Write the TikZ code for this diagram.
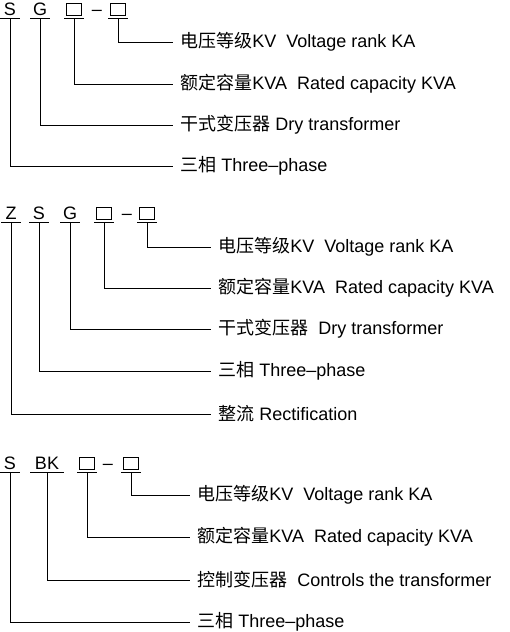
\documentclass[tikz,border=0pt]{standalone}
\usepackage{fontspec}
\setmainfont{Liberation Sans}
\newfontfamily\cjk{Noto Sans CJK SC}
\tikzset{
  code/.style={inner xsep=0pt, inner ysep=3pt, text height=12pt, text depth=0pt, minimum width=19pt},
  desc/.style={anchor=west, inner xsep=7pt, inner ysep=1pt},
}
\newcommand{\blank}{{\setlength{\fboxsep}{0pt}\setlength{\fboxrule}{0.8pt}\fbox{\rule{0pt}{11.2pt}\hspace{14.4pt}}}}
\begin{document}
\begin{tikzpicture}[x=1pt, y=-1pt, font=\fontsize{18}{20}\selectfont, line width=0.8pt]
  \useasboundingbox (0,0) rectangle (509,632);

  % SG
  \node[code] (c11) at (10,9) {S};
  \node[code] (c12) at (40,9) {G};
  \node[code] (c13) at (74,9) {\blank};
  \node[code, minimum width=0pt] (c1d) at (97,9) {–};
  \node[code] (c14) at (118,9) {\blank};
  \node[desc] (t11) at (173,42) {{\cjk 电压等级}KV\ \ Voltage rank KA};
  \node[desc] (t12) at (173,84) {{\cjk 额定容量}KVA\ \ Rated capacity KVA};
  \node[desc] (t13) at (173,125) {{\cjk 干式变压器} Dry transformer};
  \node[desc] (t14) at (173,166) {{\cjk 三相} Three–phase};
  \foreach \n in {c11,c12,c13,c14}
    \draw (\n.south west) -- (\n.south east);
  \draw (c14) |- (t11);
  \draw (c13) |- (t12);
  \draw (c12) |- (t13);
  \draw (c11) |- (t14);

  % ZSG
  \node[code] (c21) at (11,213) {Z};
  \node[code] (c22) at (39,213) {S};
  \node[code] (c23) at (70,213) {G};
  \node[code] (c24) at (104,213) {\blank};
  \node[code, minimum width=0pt] (c2d) at (127,213) {–};
  \node[code] (c25) at (147,213) {\blank};
  \node[desc] (t21) at (211,247) {{\cjk 电压等级}KV\ \ Voltage rank KA};
  \node[desc] (t22) at (211,288) {{\cjk 额定容量}KVA\ \ Rated capacity KVA};
  \node[desc] (t23) at (211,329) {{\cjk 干式变压器}\ \ Dry transformer};
  \node[desc] (t24) at (211,371) {{\cjk 三相} Three–phase};
  \node[desc] (t25) at (211,414) {{\cjk 整流} Rectification};
  \foreach \n in {c21,c22,c23,c24,c25}
    \draw (\n.south west) -- (\n.south east);
  \draw (c25) |- (t21);
  \draw (c24) |- (t22);
  \draw (c23) |- (t23);
  \draw (c22) |- (t24);
  \draw (c21) |- (t25);

  % SBK
  \node[code] (c31) at (10,463) {S};
  \node[code, minimum width=33pt] (c32) at (47,463) {BK};
  \node[code] (c33) at (87,463) {\blank};
  \node[code, minimum width=0pt] (c3d) at (108,463) {–};
  \node[code] (c34) at (131,463) {\blank};
  \node[desc] (t31) at (190,495) {{\cjk 电压等级}KV\ \ Voltage rank KA};
  \node[desc] (t32) at (190,537) {{\cjk 额定容量}KVA\ \ Rated capacity KVA};
  \node[desc] (t33) at (190,580) {{\cjk 控制变压器}\ \ Controls the transformer};
  \node[desc] (t34) at (190,622) {{\cjk 三相} Three–phase};
  \foreach \n in {c31,c32,c33,c34}
    \draw (\n.south west) -- (\n.south east);
  \draw (c34) |- (t31);
  \draw (c33) |- (t32);
  \draw (c32) |- (t33);
  \draw (c31) |- (t34);
\end{tikzpicture}
\end{document}
